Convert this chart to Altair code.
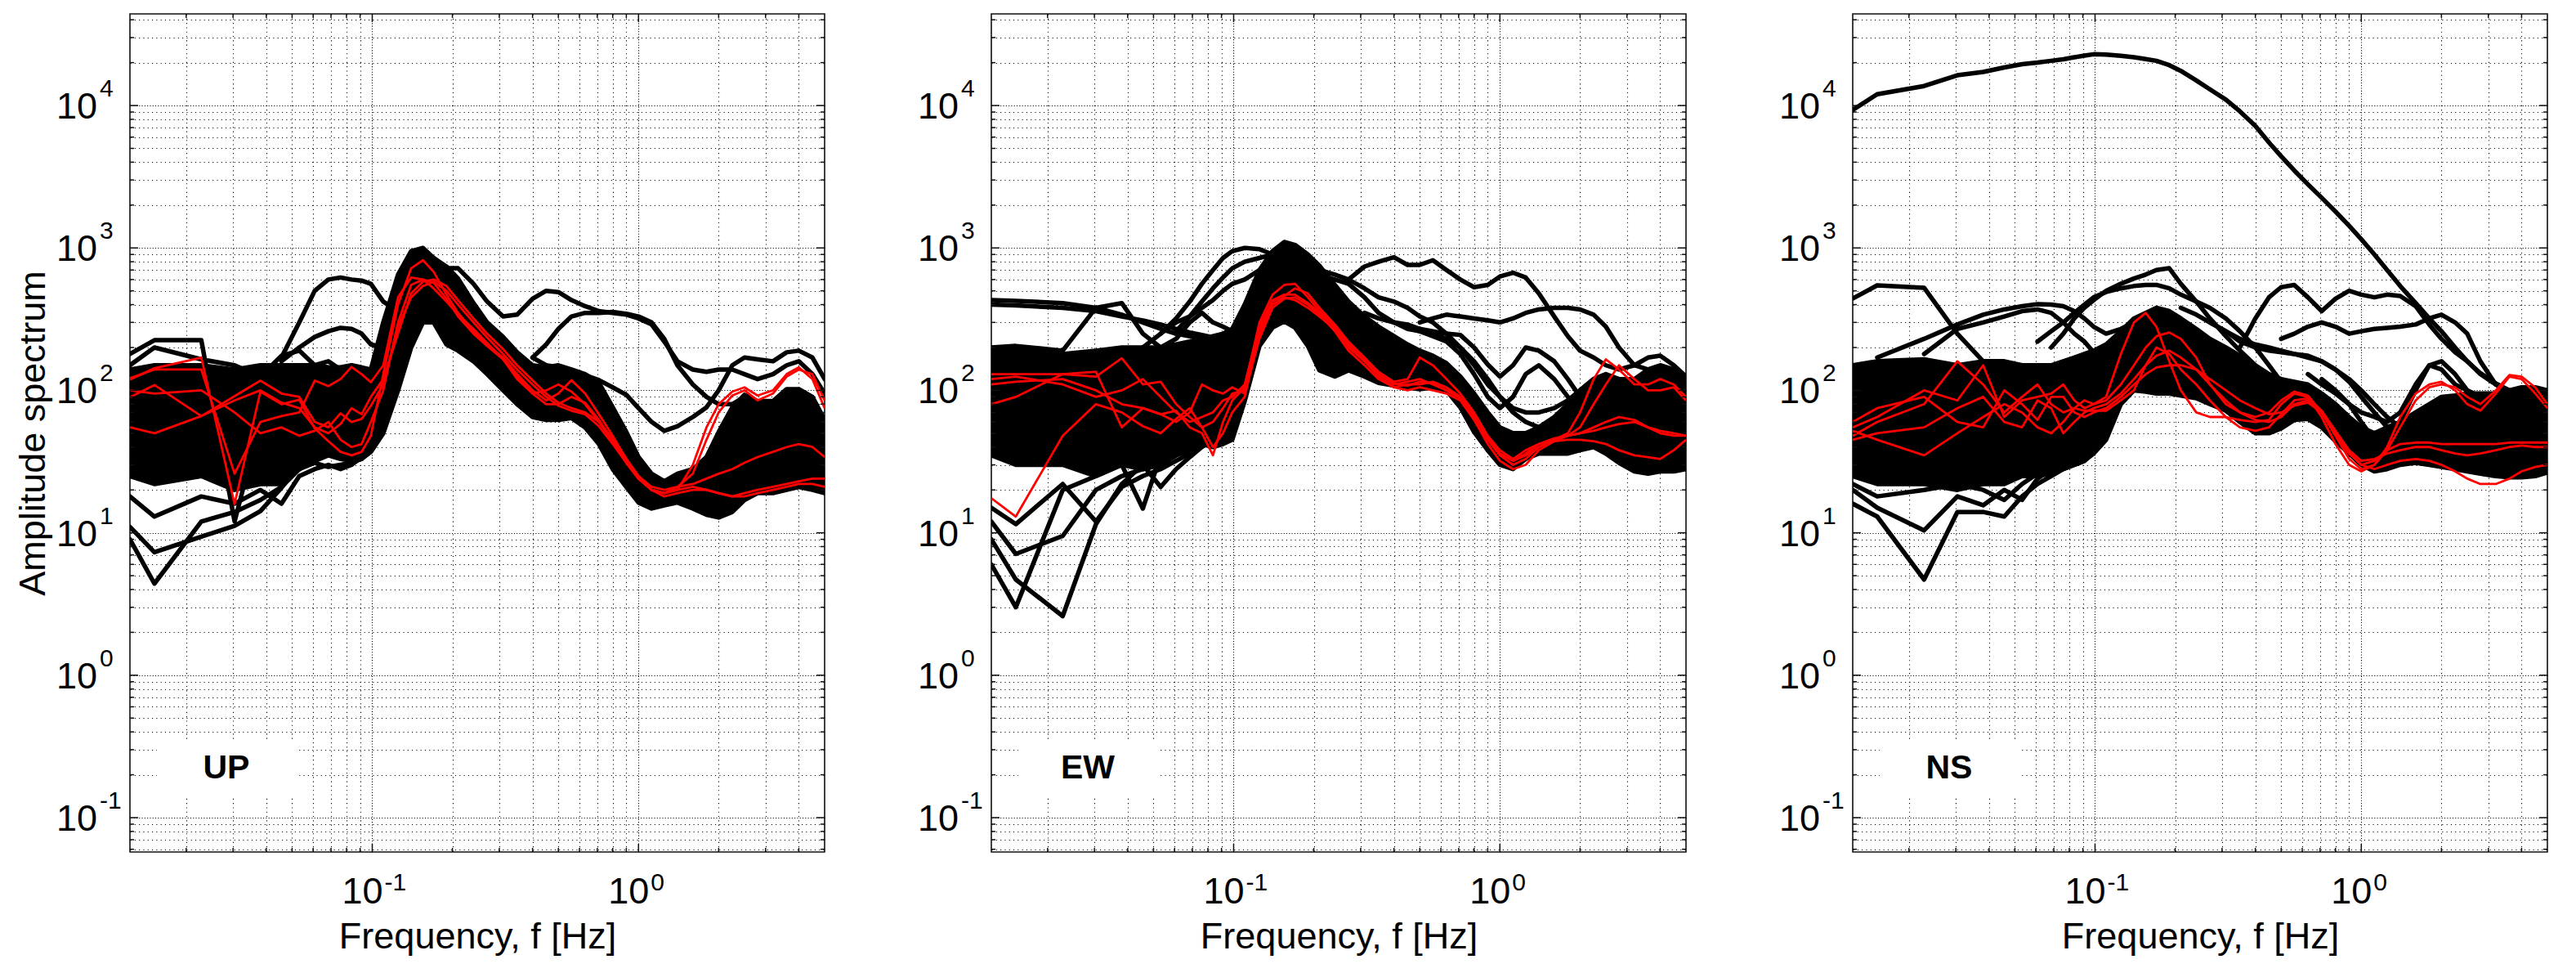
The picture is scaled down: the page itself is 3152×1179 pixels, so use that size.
import altair as alt
import pandas as pd

FONT = "Liberation Sans"

# frequency grid (Hz)
F = [0.0123, 0.0152, 0.0228, 0.0304, 0.038, 0.0456, 0.0532, 0.0608, 0.0684, 0.076, 0.0836, 0.0912, 0.0988,
     0.11, 0.125, 0.14, 0.155, 0.17, 0.19, 0.21, 0.24, 0.27, 0.31, 0.35, 0.4, 0.45, 0.5, 0.56, 0.63, 0.71,
     0.8, 0.9, 1.0, 1.12, 1.25, 1.4, 1.6, 1.8, 2.0, 2.25, 2.5, 2.8, 3.2, 3.6, 4.0, 4.5, 5.0]

X_DOMAIN = [0.0123, 5.0]
Y_DOMAIN = [0.0574, 43970]
X_MINOR = [0.02, 0.03, 0.04, 0.05, 0.06, 0.07, 0.08, 0.09, 0.2, 0.3, 0.4, 0.5, 0.6, 0.7, 0.8, 0.9, 2, 3, 4]
X_MAJOR = [0.1, 1]
Y_MINOR = [0.06, 0.07, 0.08, 0.09, 0.2, 0.3, 0.4, 0.5, 0.6, 0.7, 0.8, 0.9, 2, 3, 4, 5, 6, 7, 8, 9,
           20, 30, 40, 50, 60, 70, 80, 90, 200, 300, 400, 500, 600, 700, 800, 900,
           2000, 3000, 4000, 5000, 6000, 7000, 8000, 9000, 20000, 30000, 40000]
Y_EXP = [-1, 0, 1, 2, 3, 4]
X_EXP = [-1, 0]
PANELS = ["UP", "EW", "NS"]

# ---------------- UP ----------------
UP_CORE_HI = [140, 150, 150, 140, 150, 150, 150, 150, 145, 145, 150, 145, 140,
              300, 650, 950, 1000, 850, 740, 610, 410, 300, 237, 185, 150, 145, 150, 140, 130, 113, 76, 51, 34,
              26, 23, 26, 28, 34, 51, 76, 93, 84, 84, 102, 102, 90, 62]
UP_CORE_LO = [25, 22, 25, 20, 22, 22, 28, 32, 35, 33, 32, 33, 37,
              50, 100, 200, 300, 300, 210, 190, 160, 130, 100, 80, 65, 62, 62, 64, 55, 42, 28, 21, 16.3,
              14.8, 15.6, 16.3, 14.8, 13.4, 12.8, 14, 17, 19, 19, 20, 21, 20, 19]
UP_BLACK = [
    (0, [180, 225, 225, 12, 60, 90, 100, 110, 120, 140, 150, 140, 135]),
    (0, [150, 200, 165, 150, 125, 175, 190, 150, 160, 140, 130, 135, 130]),
    (0, [9, 4.4, 12, 14, 17, 21, 28, 31, 29, 30, 31, 33, 40]),
    (0, [11, 7.3, 9.4, 11.2, 14.2, 20.7, 30, 35, 38, 35, 34, 36, 40]),
    (0, [18, 13, 18, 16, 20, 16, 25, 28, 30, 28, 30, 34, 38]),
    (5, [170, 300, 500, 600, 620, 600, 590, 560, 420, 360, 700]),
    (5, [160, 200, 237, 260, 275, 270, 250, 210, 200, 400]),
    (17, [850, 720, 720, 560, 420, 330, 340, 440, 500, 490, 430, 390, 360, 350, 340, 320, 290, 220, 160, 140,
          135, 140, 140, 130, 120, 130, 150, 160, 130, 95]),
    (24, [170, 210, 270, 330, 350, 350, 355, 345, 330, 300, 230, 150, 110, 90, 80, 80, 90]),
    (24, [170, 150, 145, 138, 128, 118, 105, 93, 75, 60, 52, 56, 65, 76, 100, 150, 170, 165, 160, 185, 190, 170, 120]),
]
UP_RED = [
    [119, 143, 170, 15.9, 98, 80, 86, 54, 44, 37, 35, 37, 48,
     130, 400, 720, 820, 680, 470, 350, 260, 210, 170, 130, 100, 85, 95, 118, 95, 68, 48, 33, 25, 20, 19, 20, 30,
     55, 80, 98, 105, 92, 100, 130, 145, 120, 75],
    [122, 140, 140, 26, 60, 66, 70, 117, 107, 120, 146, 130, 114,
     150, 450, 620, 600, 570, 440, 330, 250, 205, 165, 125, 95, 80, 80, 90, 82, 62, 44, 31, 24, 20, 19, 21, 26,
     45, 70, 92, 100, 85, 95, 125, 140, 130, 85],
    [89.5, 109, 66, 91, 117, 95, 90, 60, 55, 69, 60, 63, 78,
     110, 280, 450, 540, 580, 500, 400, 300, 235, 180, 140, 110, 90, 78, 72, 68, 56, 42, 31, 24, 20, 18, 19, 20,
     20, 19, 18, 19, 20, 21, 22, 23, 24, 24],
    [55, 50, 66, 85, 100, 82, 75, 55, 50, 58, 75, 68, 90,
     120, 250, 480, 580, 600, 540, 430, 320, 250, 195, 150, 118, 95, 82, 75, 70, 60, 46, 33, 25, 21, 20, 21, 22,
     24, 26, 28, 31, 34, 37, 40, 42, 40, 34],
    [100, 95, 100, 70, 50, 55, 48, 52, 60, 45, 40, 42, 60,
     100, 300, 550, 600, 520, 420, 340, 270, 215, 165, 120, 95, 100, 110, 98, 80, 60, 44, 31, 24, 20, 19, 20, 21,
     20, 19, 18, 18, 19, 20, 21, 22, 22, 21],
]

# ---------------- EW ----------------
EW_CORE_HI = [190, 200, 180, 190, 200, 200, 200, 210, 220, 230, 240, 250, 270,
              400, 700, 950, 1100, 1050, 900, 750, 550, 420, 330, 280, 240, 210, 190, 175, 155, 125, 95, 70, 55,
              50, 50, 55, 65, 80, 100, 120, 130, 120, 120, 140, 150, 140, 120]
EW_CORE_LO = [35, 30, 30, 25, 30, 28, 30, 35, 40, 42, 40, 42, 45,
              84, 205, 276, 305, 276, 205, 138, 125, 138, 125, 113, 108, 105, 102, 105, 100, 76, 51, 38, 30,
              28, 33, 36, 36, 36, 38, 40, 36, 31, 27, 26, 27, 27, 28]
EW_BLACK = [
    (0, [430, 425, 410, 380, 340, 300, 270, 250, 240, 230, 220, 210, 200]),
    (0, [400, 395, 380, 360, 330, 310, 290, 270, 255, 245, 235, 225, 215]),
    (0, [200, 205, 190, 380, 410, 250, 200, 230, 300, 350, 300, 280, 260]),
    (0, [6, 3.0, 20, 25, 30, 14.8, 35, 40, 45, 50, 55, 50, 50]),
    (0, [9, 4.7, 2.6, 11.5, 22, 30, 21, 28, 34, 40, 45, 48, 50]),
    (0, [12, 7.1, 9.5, 20, 25, 28, 30, 35, 38, 45, 50, 50, 55]),
    (0, [15, 11.5, 22, 12, 21, 25, 28, 32, 36, 42, 46, 50, 55]),
    (6, [250, 320, 420, 560, 700, 850, 950, 1000, 980, 900, 1000]),
    (7, [260, 330, 420, 520, 620, 720, 800, 850, 900]),
    (5, [200, 250, 300, 330, 380, 430, 500, 560, 600, 700, 800, 900]),
    (21, [600, 740, 800, 860, 760, 760, 820, 700, 600, 530, 550, 630, 670, 620, 480, 330, 240, 190, 170, 150,
          140, 150, 170, 175, 150, 125]),
    (26, [300, 320, 340, 330, 320, 310, 300, 320, 350, 370, 380, 380, 370, 340, 280, 200, 150, 140]),
    (24, [300, 290, 270, 260, 250, 245, 200, 152, 125, 150, 200, 190, 160, 120, 90, 80, 90]),
    (22, [350, 320, 300, 280, 260, 240, 220, 180, 130, 90, 75, 90, 130, 150, 120, 90, 70]),
    (17, [1000, 800, 700, 650, 600, 520, 450, 420, 380, 330, 300, 250, 200, 150, 110, 90, 75, 70, 70, 75, 85,
          100, 120]),
    (18, [750, 650, 600, 560, 450, 350, 300, 270, 260, 250, 230, 200, 160, 120, 90, 70, 60, 55]),
]
EW_RED = [
    [17.5, 13, 48, 80, 70, 56, 50, 63, 75, 55, 40, 50, 70,
     90, 250, 400, 450, 430, 380, 330, 270, 200, 160, 130, 110, 115, 120, 110, 100, 90, 65, 45, 35, 30, 33, 40,
     45, 50, 70, 120, 165, 140, 110, 110, 120, 110, 90],
    [80, 90, 130, 125, 168, 110, 115, 80, 65, 55, 60, 75, 95,
     100, 260, 420, 460, 520, 480, 380, 290, 220, 170, 135, 115, 120, 170, 150, 120, 95, 70, 48, 38, 33, 38, 42,
     45, 48, 50, 52, 55, 58, 60, 55, 52, 50, 48],
    [130, 130, 130, 135, 55, 75, 68, 60, 70, 110, 100, 95, 105,
     95, 230, 380, 440, 450, 400, 340, 260, 190, 150, 120, 105, 110, 110, 115, 105, 90, 68, 46, 36, 32, 35, 40,
     44, 45, 45, 44, 42, 38, 35, 34, 33, 38, 45],
    [120, 125, 110, 90, 100, 120, 90, 70, 60, 65, 70, 85, 90,
     110, 280, 430, 470, 470, 410, 350, 280, 210, 165, 130, 112, 108, 115, 112, 100, 88, 66, 46, 36, 32, 36, 42,
     46, 48, 50, 55, 60, 65, 62, 55, 50, 48, 48],
    [110, 115, 120, 100, 80, 75, 68, 72, 55, 50, 35, 60, 85,
     105, 300, 470, 550, 560, 450, 360, 280, 210, 160, 125, 105, 100, 105, 100, 95, 85, 62, 42, 32, 28, 30, 38,
     44, 48, 55, 80, 110, 150, 120, 100, 100, 105, 85],
]

# ---------------- NS ----------------
NS_CORE_HI = [150, 160, 165, 150, 160, 160, 150, 150, 150, 160, 170, 180, 190,
              210, 260, 320, 350, 380, 360, 320, 270, 230, 200, 175, 150, 130, 120, 115, 110, 95, 80, 65, 55,
              50, 55, 60, 70, 80, 90, 92, 95, 95, 95, 100, 105, 105, 100]
NS_CORE_LO = [25, 22, 22, 20, 22, 22, 25, 25, 26, 28, 30, 32, 36,
              45, 80, 100, 98, 95, 95, 92, 88, 80, 72, 60, 50, 50, 54, 62, 63, 55, 44, 36, 30,
              27, 28, 30, 31, 30, 29, 28, 27, 26, 25, 24.5, 24.5, 25, 26.5]
NS_BIG = [9300, 12000, 13700, 16300, 17200, 18500, 19500, 20000, 20600, 21100, 21800, 22400, 22900,
          22800, 22300, 21800, 21200, 20600, 19200, 17500, 15000, 13000, 11000, 9100, 7200, 5500, 4400, 3500,
          2800, 2250, 1800, 1430, 1150, 900, 700, 540, 410, 320, 260, 200, 160, 132, 112, 100, 95, 90, 85]
NS_BLACK = [
    (0, NS_BIG),
    (0, [442, 546, 525, 250, 160, 130, 120]),
    (1, [170, 230, 290, 340, 370, 390, 403, 400, 390, 360, 320, 280, 250, 270, 300]),
    (8, [200, 250, 320, 380, 430, 500, 560, 610, 650, 700, 720, 560, 420, 320, 240, 190, 150]),
    (7, [220, 260, 300, 350, 400, 450, 490, 520, 540, 550, 550, 520, 470, 420, 380, 320, 260, 200, 150, 115]),
    (2, [180, 270, 300, 330, 360, 370, 350, 300, 250, 220, 185]),
    (23, [200, 320, 450, 530, 550, 450, 360, 440, 500, 470, 450, 470, 460, 390, 290, 230, 185, 160, 130, 110, 100]),
    (26, [230, 250, 280, 300, 280, 250, 260, 270, 275, 280, 290, 320, 340, 300, 250, 160, 110, 95]),
    (29, [120, 100, 80, 60, 45, 42, 60, 100, 150, 160, 130, 100, 90]),
    (28, [130, 110, 95, 80, 70, 65, 60, 70, 110, 150, 140, 110, 100, 90]),
    (19, [380, 340, 300, 260, 230, 210, 200, 190, 180, 170, 160, 140, 120, 100, 80, 65, 55]),
    (21, [300, 260, 220, 200, 190, 185, 180, 175, 160, 140, 115, 90, 70, 55]),
    (0, [16, 13, 4.7, 14, 14, 13, 18, 22, 25, 28, 30, 32, 38]),
    (0, [20, 15, 10.4, 18, 15.6, 20, 17, 24, 28, 30, 33, 35, 38]),
    (0, [22, 18, 20, 22, 20, 17, 22, 26, 28, 30, 32, 34, 38]),
]
NS_RED = [
    [48, 60, 80, 160, 110, 70, 90, 110, 80, 70, 75, 85, 80,
     90, 180, 300, 350, 280, 160, 100, 70, 65, 65, 62, 60, 62, 80, 95, 90, 65, 42, 30, 27, 30, 40, 65, 95, 110,
     115, 100, 80, 72, 95, 125, 120, 95, 75],
    [55, 65, 100, 85, 150, 65, 85, 90, 95, 110, 85, 75, 80,
     85, 110, 150, 200, 240, 255, 230, 170, 110, 80, 70, 65, 70, 85, 98, 92, 70, 48, 33, 28, 30, 38, 55, 85,
     105, 110, 105, 90, 80, 100, 128, 125, 105, 80],
    [45, 50, 55, 75, 90, 60, 55, 85, 75, 50, 60, 70, 75,
     80, 95, 120, 150, 175, 190, 170, 140, 110, 85, 70, 62, 60, 65, 80, 85, 70, 50, 36, 30, 32, 38, 42, 43, 43,
     42, 42, 42, 42, 42, 43, 43, 43, 43],
    [60, 75, 90, 60, 55, 100, 80, 62, 90, 90, 70, 65, 70,
     75, 90, 110, 130, 145, 150, 150, 140, 120, 100, 85, 75, 68, 70, 78, 82, 70, 50, 37, 30, 28, 30, 32, 33,
     32, 30, 27, 24, 22, 22, 24, 27, 29, 30],
    [52, 45, 35, 50, 65, 80, 70, 55, 50, 60, 75, 72, 72,
     72, 85, 100, 150, 200, 180, 140, 110, 85, 65, 55, 52, 55, 68, 85, 88, 72, 52, 38, 32, 33, 36, 38, 40, 40,
     38, 36, 35, 36, 38, 40, 41, 40, 40],
]

DATA = {
    "UP": (UP_CORE_HI, UP_CORE_LO, UP_BLACK, UP_RED),
    "EW": (EW_CORE_HI, EW_CORE_LO, EW_BLACK, EW_RED),
    "NS": (NS_CORE_HI, NS_CORE_LO, NS_BLACK, NS_RED),
}

W, H = 850, 1025
FS = 45
FS_SUP = 30
XS = alt.Scale(type="log", domain=X_DOMAIN, nice=False)
YS = alt.Scale(type="log", domain=Y_DOMAIN, nice=False)
GRID = dict(grid=True, gridColor="#000", gridOpacity=1, gridWidth=1.1, labels=False, ticks=False, domain=False)
MINOR_DASH = [1.1, 4.2]
MAJOR_DASH = [1.1, 2.2]
TICK_COLOR = "#111"


def tick_layers(xvals, yvals, length):
    xdf = pd.DataFrame({"f": xvals})
    ydf = pd.DataFrame({"v": yvals})
    xenc = alt.X("f:Q", scale=XS, axis=None)
    yenc = alt.Y("v:Q", scale=YS, axis=None)
    rule = dict(color=TICK_COLOR, strokeWidth=1.5)
    return [
        alt.Chart(xdf).mark_rule(**rule).encode(x=xenc, y=alt.value(H), y2=alt.value(H - length)),
        alt.Chart(xdf).mark_rule(**rule).encode(x=xenc, y=alt.value(0), y2=alt.value(length)),
        alt.Chart(ydf).mark_rule(**rule).encode(y=yenc, x=alt.value(0), x2=alt.value(length)),
        alt.Chart(ydf).mark_rule(**rule).encode(y=yenc, x=alt.value(W), x2=alt.value(W - length)),
    ]


def panel(name, first):
    core_hi, core_lo, blacks, reds = DATA[name]
    assert len(core_hi) == len(F) and len(core_lo) == len(F)
    core_df = pd.DataFrame({"f": F, "lo": core_lo, "hi": core_hi})

    brows = []
    for k, (start, vals) in enumerate(blacks + [(0, core_hi), (0, core_lo)]):
        for i, v in enumerate(vals):
            brows.append({"f": F[start + i], "v": v, "s": f"b{k}", "o": i})
    blk_df = pd.DataFrame(brows)

    rrows = []
    for k, vals in enumerate(reds):
        assert len(vals) == len(F)
        for i, v in enumerate(vals):
            rrows.append({"f": F[i], "v": v, "s": f"r{k}", "o": i})
    red_df = pd.DataFrame(rrows)

    x_minor = alt.Axis(orient="bottom", values=X_MINOR, gridDash=MINOR_DASH, title="Frequency, f [Hz]",
                       titleFont=FONT, titleFontSize=FS, titleFontWeight="normal", titleColor="#000",
                       titleX=W / 2, titleY=117, titleAlign="center", titleBaseline="alphabetic", **GRID)
    if first:
        y_minor = alt.Axis(orient="left", values=Y_MINOR, gridDash=MINOR_DASH, title="Amplitude spectrum",
                           titleFont=FONT, titleFontSize=FS, titleFontWeight="normal", titleColor="#000",
                           titleX=-105, titleY=H / 2, titleAngle=270, titleAlign="center",
                           titleBaseline="alphabetic", **GRID)
    else:
        y_minor = alt.Axis(orient="left", values=Y_MINOR, gridDash=MINOR_DASH, title=None, **GRID)
    x_major = alt.Axis(orient="top", values=X_MAJOR, gridDash=MAJOR_DASH, title=None, **GRID)
    y_major = alt.Axis(orient="right", values=[10.0 ** e for e in Y_EXP], gridDash=MAJOR_DASH, title=None, **GRID)

    area = alt.Chart(core_df).mark_area(color="#000", clip=True).encode(
        x=alt.X("f:Q", scale=XS, axis=x_minor),
        y=alt.Y("lo:Q", scale=YS, axis=y_minor),
        y2="hi:Q",
    )
    black = alt.Chart(blk_df).mark_line(color="#000", strokeWidth=5.5, clip=True,
                                        strokeJoin="round", strokeCap="round").encode(
        x=alt.X("f:Q", scale=XS, axis=x_major),
        y=alt.Y("v:Q", scale=YS, axis=y_major),
        detail="s:N",
        order="o:Q",
    )
    red = alt.Chart(red_df).mark_line(color="#ff0000", strokeWidth=2.8, clip=True,
                                      strokeJoin="round").encode(
        x=alt.X("f:Q", scale=XS, axis=None),
        y=alt.Y("v:Q", scale=YS, axis=None),
        detail="s:N",
        order="o:Q",
    )
    lab_df = pd.DataFrame({"t": [name]})
    box = alt.Chart(lab_df).mark_rect(color="#fff").encode(
        x=alt.value(33), x2=alt.value(203), y=alt.value(890), y2=alt.value(957))
    label = alt.Chart(lab_df).mark_text(font=FONT, fontSize=41, fontWeight="bold", color="#000",
                                        align="center", baseline="middle").encode(
        x=alt.value(118), y=alt.value(923), text="t:N")

    ydf = pd.DataFrame({"v": [10.0 ** e for e in Y_EXP], "b": ["10"] * len(Y_EXP), "e": [str(e) for e in Y_EXP]})
    y10 = alt.Chart(ydf).mark_text(font=FONT, fontSize=FS, color="#000", align="right",
                                   baseline="alphabetic", dy=16).encode(
        x=alt.value(-40), y=alt.Y("v:Q", scale=YS, axis=None), text="b:N")
    yex = alt.Chart(ydf).mark_text(font=FONT, fontSize=FS_SUP, color="#000", align="left",
                                   baseline="alphabetic", dy=-11).encode(
        x=alt.value(-37), y=alt.Y("v:Q", scale=YS, axis=None), text="e:N")

    xdf = pd.DataFrame({"f": [10.0 ** e for e in X_EXP], "b": ["10"] * len(X_EXP), "e": [str(e) for e in X_EXP]})
    x10 = alt.Chart(xdf).mark_text(font=FONT, fontSize=FS, color="#000", align="right",
                                   baseline="alphabetic", dx=13).encode(
        x=alt.X("f:Q", scale=XS, axis=None), y=alt.value(H + 63), text="b:N")
    xex = alt.Chart(xdf).mark_text(font=FONT, fontSize=FS_SUP, color="#000", align="left",
                                   baseline="alphabetic", dx=15).encode(
        x=alt.X("f:Q", scale=XS, axis=None), y=alt.value(H + 47), text="e:N")

    ticks = tick_layers(X_MAJOR, [10.0 ** e for e in Y_EXP], 10) + tick_layers(X_MINOR, Y_MINOR, 5)

    return alt.layer(area, black, red, box, label, *ticks, y10, yex, x10, xex).resolve_axis(
        x="independent", y="independent").properties(width=W, height=H)


chart = alt.hconcat(*[panel(n, i == 0) for i, n in enumerate(PANELS)], spacing=204, bounds="flush")
chart = chart.configure_view(stroke="#111", strokeWidth=1.6).properties(
    padding={"left": 9, "top": 7, "right": 5, "bottom": 0}, background="#ffffff")

chart.save("out.html", embed_options={"renderer": "svg", "actions": False})
